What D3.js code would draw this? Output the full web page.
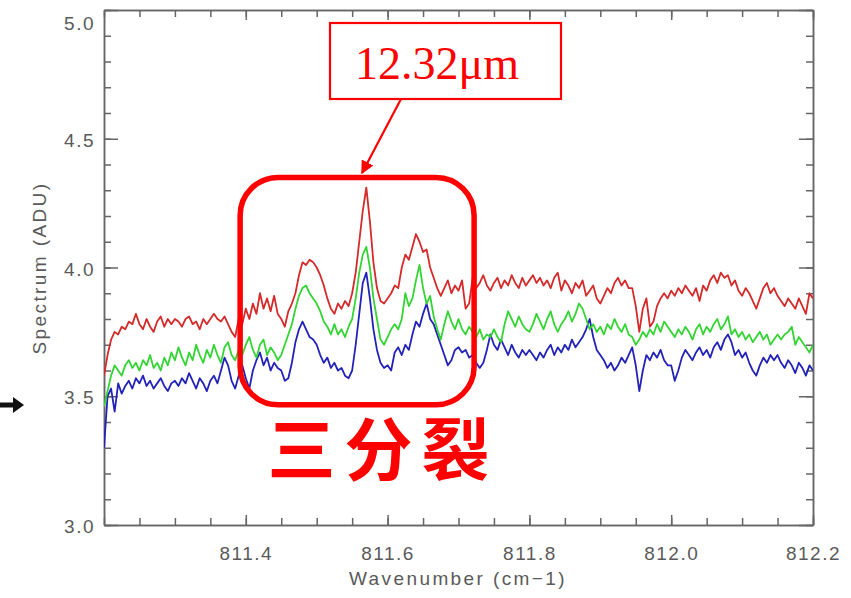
<!DOCTYPE html>
<html lang="en">
<head>
<meta charset="utf-8">
<title>Spectrum</title>
<script src="https://cdn.jsdelivr.net/npm/d3@7"></script>
<style>
  body { margin: 0; background: #fff; }
  .tick text { fill: #5a5a5a; font-family: "Liberation Sans", Arial, sans-serif; font-size: 19px; letter-spacing: 1.5px; }
  .axis path, .axis line { stroke: #666; stroke-width: 1.5; }
  .title { fill: #5a5a5a; font-family: "Liberation Sans", Arial, sans-serif; font-size: 19px; letter-spacing: 2.4px; }
</style>
</head>
<body>
<div id="chart"></div>
<script>
// wavenumber sampling: start + i * step (cm-1)
var waveStart = 811.2, waveStep = 0.005;

// spectra (ADU)
var redSpectrum = [
  3.58, 3.66, 3.72, 3.75, 3.74, 3.77, 3.76, 3.79, 3.78, 3.82,
  3.78, 3.76, 3.80, 3.77, 3.75, 3.79, 3.81, 3.77, 3.80, 3.78,
  3.80, 3.79, 3.77, 3.80, 3.81, 3.78, 3.79, 3.76, 3.80, 3.78,
  3.80, 3.82, 3.80, 3.79, 3.81, 3.78, 3.75, 3.73, 3.80, 3.78,
  3.84, 3.80, 3.86, 3.82, 3.90, 3.84, 3.88, 3.83, 3.89, 3.82,
  3.80, 3.77, 3.83, 3.86, 3.90, 3.97, 4.02, 4.01, 4.03, 4.02,
  4.00, 3.97, 3.93, 3.88, 3.84, 3.82, 3.86, 3.84, 3.87, 3.85,
  3.90, 3.98, 4.10, 4.22, 4.31, 4.18, 4.02, 3.92, 3.87, 3.86,
  3.88, 3.90, 3.93, 3.92, 4.00, 4.05, 4.03, 4.08, 4.13, 4.10,
  4.06, 4.07, 4.00, 3.96, 3.92, 3.89, 3.92, 3.95, 3.90, 3.93,
  3.91, 3.95, 3.84, 3.86, 3.96, 3.92, 3.94, 3.97, 3.93, 3.91,
  3.94, 3.96, 3.92, 3.95, 3.93, 3.97, 3.94, 3.92, 3.96, 3.93,
  3.95, 3.97, 3.94, 3.96, 3.93, 3.95, 3.92, 3.96, 3.98, 3.91,
  3.95, 3.93, 3.90, 3.94, 3.92, 3.95, 3.89, 3.91, 3.93, 3.88,
  3.86, 3.89, 3.92, 3.90, 3.94, 3.96, 3.93, 3.95, 3.92, 3.92,
  3.85, 3.75, 3.84, 3.88, 3.77, 3.79, 3.85, 3.88, 3.90, 3.88,
  3.91, 3.89, 3.92, 3.90, 3.93, 3.91, 3.89, 3.92, 3.87, 3.93,
  3.91, 3.95, 3.97, 3.94, 3.98, 3.96, 3.97, 3.93, 3.95, 3.91,
  3.89, 3.92, 3.90, 3.87, 3.84, 3.88, 3.92, 3.94, 3.90, 3.92,
  3.89, 3.87, 3.85, 3.88, 3.86, 3.84, 3.88, 3.85, 3.82, 3.90, 3.88
];
var greenSpectrum = [
  3.46, 3.52, 3.58, 3.62, 3.60, 3.58, 3.62, 3.64, 3.61, 3.63,
  3.60, 3.64, 3.62, 3.66, 3.61, 3.63, 3.60, 3.65, 3.62, 3.67,
  3.64, 3.69, 3.65, 3.62, 3.67, 3.64, 3.70, 3.66, 3.63, 3.68,
  3.65, 3.70, 3.66, 3.63, 3.69, 3.71, 3.66, 3.64, 3.68, 3.66,
  3.70, 3.73, 3.68, 3.65, 3.70, 3.72, 3.66, 3.69, 3.67, 3.64,
  3.66, 3.70, 3.74, 3.78, 3.84, 3.89, 3.92, 3.93, 3.90, 3.88,
  3.86, 3.83, 3.79, 3.77, 3.74, 3.78, 3.74, 3.76, 3.73, 3.77,
  3.80, 3.88, 3.98, 4.05, 4.08, 4.00, 3.88, 3.80, 3.72, 3.70,
  3.73, 3.76, 3.78, 3.76, 3.80, 3.90, 3.85, 3.88, 3.95, 4.01,
  3.92, 3.86, 3.89, 3.81, 3.76, 3.72, 3.78, 3.83, 3.79, 3.76,
  3.80, 3.76, 3.74, 3.77, 3.75, 3.73, 3.76, 3.72, 3.74, 3.73,
  3.76, 3.73, 3.71, 3.78, 3.83, 3.80, 3.77, 3.81, 3.78, 3.76,
  3.75, 3.78, 3.82, 3.79, 3.76, 3.80, 3.83, 3.78, 3.75, 3.78,
  3.80, 3.83, 3.79, 3.82, 3.86, 3.84, 3.80, 3.76, 3.78, 3.75,
  3.77, 3.74, 3.78, 3.76, 3.80, 3.77, 3.75, 3.78, 3.74, 3.73,
  3.70, 3.72, 3.75, 3.73, 3.76, 3.74, 3.78, 3.75, 3.79, 3.77,
  3.75, 3.73, 3.76, 3.74, 3.77, 3.75, 3.72, 3.76, 3.78, 3.74,
  3.77, 3.75, 3.78, 3.80, 3.76, 3.78, 3.81, 3.74, 3.76, 3.73,
  3.75, 3.72, 3.74, 3.71, 3.73, 3.75, 3.72, 3.74, 3.70, 3.72,
  3.74, 3.72, 3.74, 3.75, 3.77, 3.70, 3.73, 3.71, 3.69, 3.67, 3.70
];
var blueSpectrum = [
  3.30, 3.50, 3.53, 3.44, 3.55, 3.51, 3.54, 3.56, 3.53, 3.57,
  3.55, 3.58, 3.54, 3.56, 3.53, 3.55, 3.57, 3.54, 3.52, 3.55,
  3.56, 3.54, 3.57, 3.55, 3.59, 3.56, 3.53, 3.57, 3.55, 3.52,
  3.56, 3.58, 3.55, 3.60, 3.65, 3.62, 3.56, 3.53, 3.58, 3.62,
  3.57, 3.53, 3.60, 3.64, 3.67, 3.62, 3.65, 3.60, 3.63, 3.61,
  3.60, 3.56, 3.57, 3.63, 3.71, 3.76, 3.79, 3.76, 3.73, 3.72,
  3.70, 3.66, 3.63, 3.65, 3.61, 3.63, 3.60, 3.61, 3.58, 3.57,
  3.60, 3.70, 3.82, 3.94, 3.98, 3.88, 3.76, 3.68, 3.63, 3.61,
  3.62, 3.60, 3.67, 3.69, 3.66, 3.70, 3.68, 3.74, 3.79, 3.77,
  3.82, 3.86, 3.80, 3.78, 3.74, 3.70, 3.66, 3.62, 3.64, 3.68,
  3.69, 3.67, 3.68, 3.65, 3.66, 3.63, 3.61, 3.63, 3.68, 3.74,
  3.70, 3.68, 3.72, 3.69, 3.66, 3.70, 3.67, 3.65, 3.68, 3.66,
  3.68, 3.66, 3.64, 3.67, 3.65, 3.68, 3.70, 3.66, 3.69, 3.67,
  3.70, 3.68, 3.72, 3.69, 3.71, 3.73, 3.76, 3.80, 3.73, 3.68,
  3.66, 3.64, 3.61, 3.63, 3.60, 3.62, 3.65, 3.63, 3.66, 3.69,
  3.62, 3.52, 3.60, 3.66, 3.64, 3.67, 3.65, 3.68, 3.64, 3.62,
  3.62, 3.56, 3.60, 3.65, 3.68, 3.66, 3.64, 3.67, 3.69, 3.66,
  3.68, 3.65, 3.69, 3.71, 3.68, 3.72, 3.74, 3.71, 3.66, 3.68,
  3.65, 3.67, 3.63, 3.60, 3.58, 3.62, 3.65, 3.63, 3.66, 3.64,
  3.66, 3.63, 3.61, 3.64, 3.62, 3.59, 3.63, 3.61, 3.58, 3.62, 3.60
];

var xMajorTicks = [811.4, 811.6, 811.8, 812.0, 812.2];
var yMajorTicks = [3.0, 3.5, 4.0, 4.5, 5.0];

var W = 851, H = 598;
var margin = {top: 10, right: 38, bottom: 73, left: 104},
    width = 813 - margin.left,
    height = 525 - margin.top;

var x = d3.scaleLinear().domain([811.2, 812.2]).range([0, width]);
var y = d3.scaleLinear().domain([3.0, 5.0]).range([height, 0]);

var svg = d3.select("#chart").append("svg")
    .attr("width", W).attr("height", H);

var g = svg.append("g")
    .attr("transform", "translate(" + margin.left + "," + margin.top + ")");

g.append("clipPath").attr("id", "clip")
  .append("rect").attr("width", width).attr("height", height);

// minor ticks every 0.05 / 0.1
var xMinor = d3.range(0, 21).map(function(i) { return 811.2 + i * 0.05; });
var yMinor = d3.range(0, 21).map(function(i) { return 3.0 + i * 0.1; });

function drawAxis(sel, axisFn, scale, minor, major, len, majorLen, labels) {
  sel.append("g").attr("class", "axis")
    .call(axisFn(scale).tickValues(minor).tickSize(len).tickSizeOuter(0).tickFormat(""));
  return sel.append("g").attr("class", "axis")
    .call(axisFn(scale).tickValues(major).tickSize(majorLen).tickSizeOuter(0)
      .tickFormat(labels ? d3.format(".1f") : ""));
}

var axBottom = g.append("g").attr("transform", "translate(0," + height + ")");
var xa = drawAxis(axBottom, d3.axisBottom, x, xMinor, xMajorTicks, -7, -10, true);
xa.selectAll(".tick text").attr("y", 22).attr("dy", "0.71em");

var axTop = g.append("g");
drawAxis(axTop, d3.axisTop, x, xMinor, xMajorTicks, -7, -10, false);

var axLeft = g.append("g");
var ya = drawAxis(axLeft, d3.axisLeft, y, yMinor, yMajorTicks, -7, -14, true);
ya.selectAll(".tick text").attr("x", -9)
  .attr("dy", function(d) { return d === 5.0 ? "1.0em" : "0.4em"; });

var axRight = g.append("g").attr("transform", "translate(" + width + ",0)");
drawAxis(axRight, d3.axisRight, y, yMinor, yMajorTicks, -7, -14, false);

// spectra
var line = d3.line()
    .x(function(d, i) { return x(waveStart + i * waveStep); })
    .y(function(d) { return y(d); });

var series = [
  {values: blueSpectrum, color: "#2222b8"},
  {values: greenSpectrum, color: "#33d433"},
  {values: redSpectrum, color: "#d42a2a"}
];
g.append("g").attr("clip-path", "url(#clip)")
  .selectAll("path").data(series).enter().append("path")
    .attr("d", function(d) { return line(d.values); })
    .attr("fill", "none")
    .attr("stroke", function(d) { return d.color; })
    .attr("stroke-width", 1.8)
    .attr("stroke-linejoin", "round");

// axis titles
svg.append("text").attr("class", "title")
  .attr("x", 458).attr("y", 585).attr("text-anchor", "middle")
  .text("Wavenumber (cm\u22121)");
svg.append("text").attr("class", "title")
  .attr("transform", "translate(46,268) rotate(-90)")
  .attr("text-anchor", "middle")
  .text("Spectrum (ADU)");

// annotations
var red = "#ff0000";
svg.append("defs").append("marker")
    .attr("id", "head").attr("viewBox", "0 0 10 10")
    .attr("refX", 9).attr("refY", 5)
    .attr("markerWidth", 6).attr("markerHeight", 6)
    .attr("orient", "auto")
  .append("path").attr("d", "M0,0L10,5L0,10z").attr("fill", red);

// rounded box around the triplet
svg.append("rect")
  .attr("x", margin.left + x(811.392)).attr("y", margin.top + y(4.35))
  .attr("width", x(811.722) - x(811.392)).attr("height", y(3.467) - y(4.35))
  .attr("rx", 38).attr("ry", 38)
  .attr("fill", "none").attr("stroke", red).attr("stroke-width", 5.5);

svg.append("text")
  .attr("x", 383).attr("y", 475).attr("text-anchor", "middle")
  .attr("fill", red)
  .style("font-family", "'Noto Sans CJK SC', sans-serif")
  .style("font-weight", "bold").style("font-size", "68px")
  .style("letter-spacing", "9px")
  .text("三分裂");

// label box
svg.append("rect")
  .attr("x", 330).attr("y", 23).attr("width", 231).attr("height", 76)
  .attr("fill", "#fff").attr("stroke", red).attr("stroke-width", 2.2);
svg.append("text")
  .attr("x", 437).attr("y", 79).attr("text-anchor", "middle")
  .attr("fill", red)
  .style("font-family", "'Liberation Serif', 'Times New Roman', serif")
  .style("font-size", "46px")
  .text("12.32\u03bcm");
svg.append("line")
  .attr("x1", 401).attr("y1", 99).attr("x2", 362).attr("y2", 173)
  .attr("stroke", red).attr("stroke-width", 2.2)
  .attr("marker-end", "url(#head)");

// black pointer on the left
svg.append("path")
  .attr("d", "M0,402.5L13,402.5L13,397L24,405L13,413L13,407.5L0,407.5Z")
  .attr("fill", "#111");
</script>
</body>
</html>
